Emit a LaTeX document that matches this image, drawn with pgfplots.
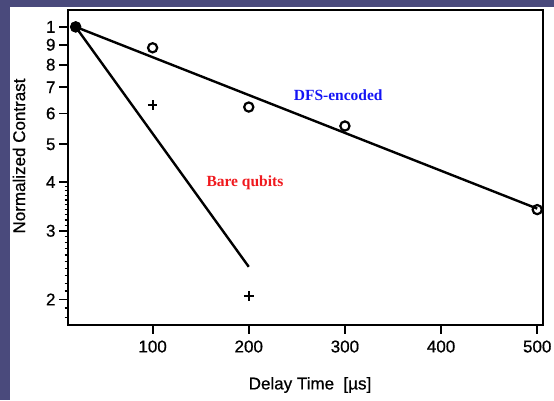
\documentclass[border=0pt]{standalone}
\usepackage{fontspec}
\setmainfont{Liberation Sans}[BoldFont=Liberation Sans, BoldFeatures={FakeBold=0.7}]
\newfontfamily\annfont{Liberation Serif}
\usepackage{pgfplots}
\pgfplotsset{compat=1.18}
\definecolor{slide}{RGB}{74,74,124}
\definecolor{dfsBlue}{RGB}{20,20,245}
\definecolor{bareRed}{RGB}{240,25,30}

\begin{document}
\begin{tikzpicture}
\useasboundingbox (0,0) rectangle (554pt,400pt);
\fill[slide] (0,0) rectangle (554pt,400pt);
\fill[white] (10pt,0) rectangle (554pt,393pt);

\begin{axis}[
    at={(68pt,75pt)}, anchor=south west,
    scale only axis, width=475pt, height=315pt,
    xmin=12, xmax=506,
    ymode=log, ymin=0.172, ymax=1.105,
    axis line style={line width=2.4pt},
    xtick={100,200,300,400,500},
    xticklabels={100,200,300,400,500},
    ytick={0.2,0.3,0.4,0.5,0.6,0.7,0.8,0.9,1.0},
    yticklabels={2,3,4,5,6,7,8,9,1},
    minor ytick={0.18,0.19,0.21,0.22,0.23,0.24,0.25,0.26,0.27,0.28,0.29,0.31,0.32,0.33,0.34,0.35,0.36,0.37,0.38,0.39},
    xtick pos=left, ytick pos=left,
    tick align=outside,
    major tick length=9pt, minor tick length=3.5pt,
    every tick/.style={black, line width=1.8pt},
    minor tick style={line width=1.4pt},
    tick label style={font=\bfseries\fontsize{17}{17}\selectfont},
    xticklabel style={yshift=-3pt},
    clip=false,
]

% DFS-encoded: fit line and data
\addplot[black, line width=2.4pt] coordinates {(20,1.0) (500,0.342)};
\addplot[only marks, mark=o, mark size=4.6pt, line width=2.2pt, black] coordinates {
    (20,1.0) (100,0.884) (200,0.623) (300,0.557) (500,0.340)
};

% Bare qubits: fit line and data
\addplot[black, line width=2.4pt] coordinates {(20,1.0) (200,0.2425)};
\addplot[only marks, mark=+, mark size=4.8pt, line width=2.2pt, black] coordinates {
    (20,1.0) (100,0.631) (200,0.204)
};
% shared starting point, drawn as a solid dot
\addplot[only marks, mark=*, mark size=5.2pt, black] coordinates {(20,1.0)};

\node[font=\annfont\bfseries\fontsize{15.5}{15.5}\selectfont, text=dfsBlue] at (axis cs:293,0.669) {DFS-encoded};
\node[font=\annfont\bfseries\fontsize{15.5}{15.5}\selectfont, text=bareRed] at (axis cs:196,0.398) {Bare qubits};
\end{axis}

\node[rotate=90, font=\bfseries\fontsize{17}{17}\selectfont] at (19pt,244pt) {Normalized Contrast};
\node[font=\bfseries\fontsize{17}{17}\selectfont] at (310pt,15pt) {Delay Time \ [µs]};
\end{tikzpicture}
\end{document}
